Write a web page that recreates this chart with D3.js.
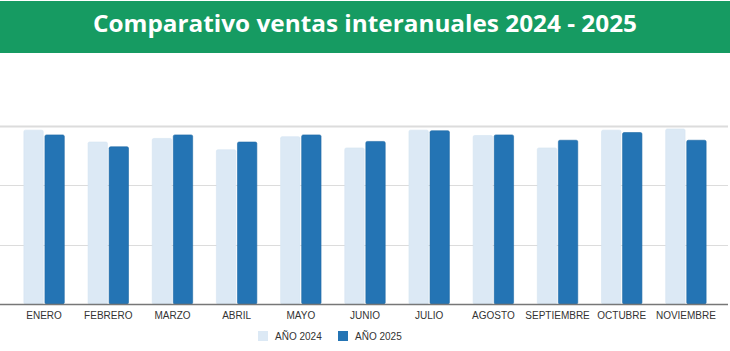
<!DOCTYPE html>
<html>
<head>
<meta charset="utf-8">
<script src="https://cdn.jsdelivr.net/npm/d3@7"></script>
<style>
  body { margin: 0; background: #fff; }
  #chart { width: 730px; height: 351px; }
  .title { font-family: "Open Sans", sans-serif; font-weight: 700; fill: #fff; }
  .tick text { font-family: "Liberation Sans", Arial, sans-serif; font-size: 10px; fill: #333; }
  .legend text { font-family: "Liberation Sans", Arial, sans-serif; font-size: 10px; fill: #333; }
</style>
</head>
<body>
<div id="chart"></div>
<script>
  var months = ["ENERO","FEBRERO","MARZO","ABRIL","MAYO","JUNIO","JULIO","AGOSTO","SEPTIEMBRE","OCTUBRE","NOVIEMBRE"];
  var series = ["AÑO 2024","AÑO 2025"];
  var ventas2024 = [2.93, 2.73, 2.79, 2.60, 2.82, 2.63, 2.93, 2.84, 2.63, 2.93, 2.95];
  var ventas2025 = [2.85, 2.65, 2.85, 2.73, 2.85, 2.74, 2.92, 2.85, 2.76, 2.89, 2.76];
  var gridTicks = [0, 1, 2, 3];
  var colors = ["#dce9f5", "#2474b4"];

  var width = 730, height = 351;
  var svg = d3.select("#chart")
    .append("svg")
    .attr("width", width)
    .attr("height", height);

  var margin = {top: 126, right: 12, bottom: 47, left: 12};

  var data = months.map(function(m, i) {
    return {month: m, values: [ventas2024[i], ventas2025[i]]};
  });

  // title bar
  svg.append("rect")
    .attr("x", 0).attr("y", 1)
    .attr("width", width).attr("height", 52)
    .attr("fill", "#169b62");

  svg.append("text")
    .attr("class", "title")
    .attr("x", width/2)
    .attr("y", 32)
    .attr("text-anchor", "middle")
    .attr("textLength", 544)
    .attr("lengthAdjust", "spacingAndGlyphs")
    .style("font-size", "24px")
    .text("Comparativo ventas interanuales 2024 - 2025");

  var xScale = d3.scaleBand()
    .domain(months)
    .range([margin.left, width - margin.right])
    .paddingInner(0.37)
    .paddingOuter(0.185);

  var xInner = d3.scaleBand()
    .domain(series)
    .range([0, xScale.bandwidth()])
    .paddingInner(0.08);

  var yScale = d3.scaleLinear()
    .domain([0, 3])
    .range([height - margin.bottom, margin.top]);

  // gridlines
  svg.append("g")
    .selectAll("line")
    .data(gridTicks.slice(1))
    .enter()
    .append("line")
      .attr("x1", 0)
      .attr("x2", 728)
      .attr("y1", function(d) { return Math.round(yScale(d)) + 0.5; })
      .attr("y2", function(d) { return Math.round(yScale(d)) + 0.5; })
      .attr("stroke", "#dcdcdc")
      .attr("stroke-width", function(d) { return d === 3 ? 2 : 1; });

  // bars
  var groups = svg.selectAll(".group")
    .data(data)
    .enter()
    .append("g")
      .attr("class", "group")
      .attr("transform", function(d) { return `translate(${xScale(d.month)},0)`; });

  groups.selectAll("rect")
    .data(function(d) { return d.values.map(function(v, i) { return {series: series[i], value: v, idx: i}; }); })
    .enter()
    .append("rect")
      .attr("x", function(d) { return xInner(d.series); })
      .attr("y", function(d) { return yScale(d.value); })
      .attr("width", xInner.bandwidth())
      .attr("height", function(d) { return yScale(0) - yScale(d.value); })
      .attr("rx", 1.5)
      .attr("fill", function(d) { return colors[d.idx]; })
      .attr("stroke", function(d) { return d.idx === 0 ? "#d5e4f2" : "#1f6aa6"; })
      .attr("stroke-width", 0.6);

  // x axis
  var xAxis = svg.append("g")
    .attr("transform", `translate(0,${height - margin.bottom})`)
    .call(d3.axisBottom(xScale).tickSize(0).tickPadding(8));
  xAxis.select(".domain").remove();
  xAxis.append("line")
    .attr("x1", 0).attr("x2", 728)
    .attr("y1", 0.5).attr("y2", 0.5)
    .attr("stroke", "#777")
    .attr("stroke-width", 1.5);

  // legend
  var legend = svg.append("g")
    .attr("class", "legend")
    .attr("transform", "translate(258,331)");
  var item = legend.selectAll("g")
    .data(series)
    .enter()
    .append("g")
      .attr("transform", function(d, i) { return `translate(${i * 80},0)`; });
  item.append("rect")
    .attr("width", 10).attr("height", 10)
    .attr("fill", function(d, i) { return colors[i]; });
  item.append("text")
    .attr("x", 17)
    .attr("y", 9)
    .text(function(d) { return d; });
</script>
</body>
</html>
